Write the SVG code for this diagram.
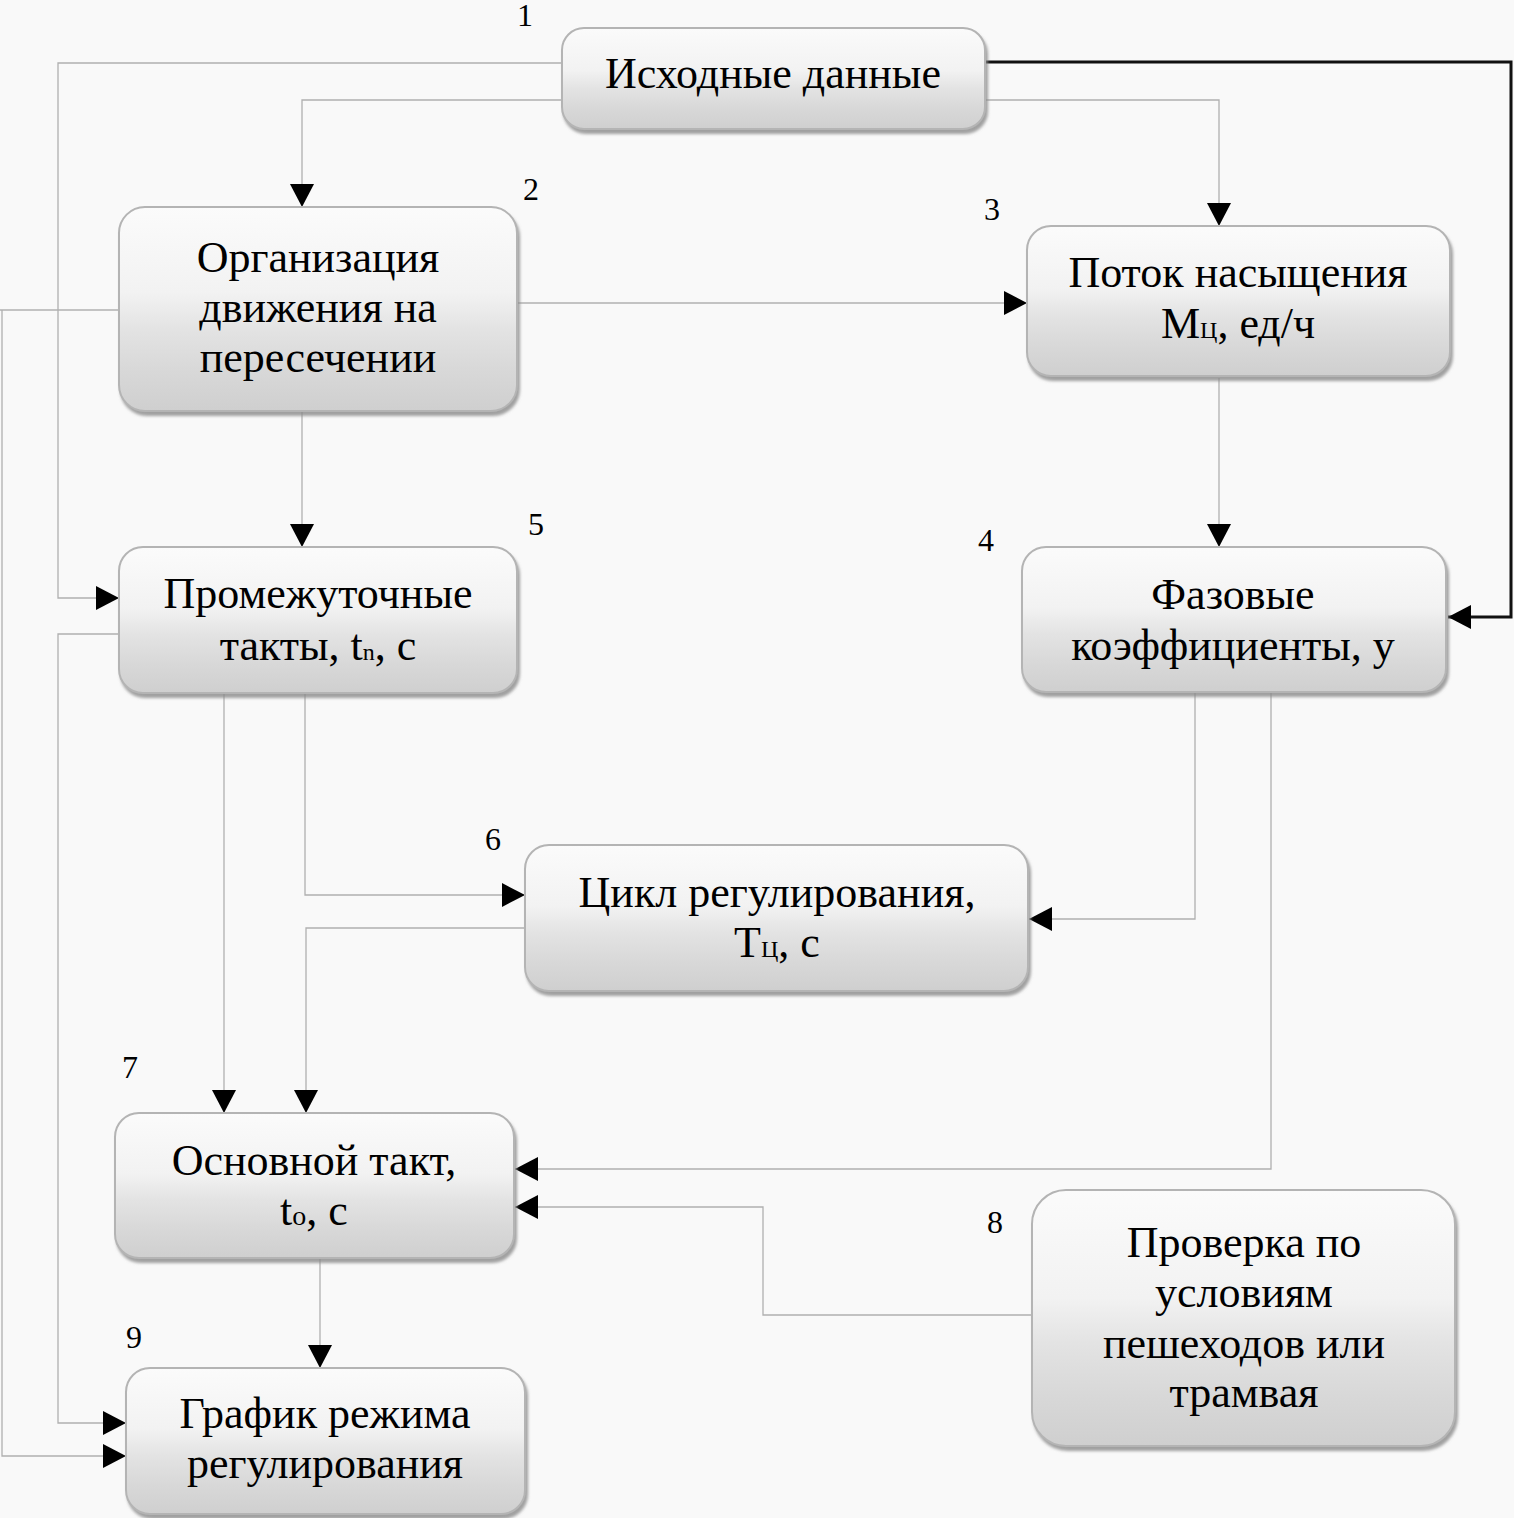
<svg xmlns="http://www.w3.org/2000/svg" width="1514" height="1518" viewBox="0 0 1514 1518">
<style>
.box{fill:url(#g);stroke:#b4b4b4;stroke-width:2;filter:url(#sh)}
.t{font-family:"Liberation Serif","Times New Roman",serif;font-size:44px;fill:#000;text-anchor:middle}
.n{font-family:"Liberation Serif","Times New Roman",serif;font-size:32px;fill:#000;text-anchor:middle}
.c{fill:none;stroke:#b0b0b0;stroke-width:1.3}
.k{fill:none;stroke:#111;stroke-width:3}
.s{font-size:24px}
</style>
<defs>
<linearGradient id="g" x1="0" y1="0" x2="0" y2="1">
<stop offset="0" stop-color="#fbfbfb"/>
<stop offset="0.42" stop-color="#f2f2f2"/>
<stop offset="0.6" stop-color="#e3e3e3"/>
<stop offset="0.8" stop-color="#d8d8d8"/>
<stop offset="1" stop-color="#cfcfcf"/>
</linearGradient>
<filter id="sh" x="-5%" y="-5%" width="115%" height="120%">
<feDropShadow dx="2" dy="4" stdDeviation="1.5" flood-color="#8a8a8a" flood-opacity="0.8"/>
</filter>
<marker id="a" markerUnits="userSpaceOnUse" markerWidth="24" markerHeight="24" viewBox="0 0 23 24" refX="23" refY="12" orient="auto">
<path d="M0,0 L23,12 L0,24 z" fill="#000"/>
</marker>
</defs>
<rect width="1514" height="1518" fill="#f9f9f9"/>
<g id="connectors">
<polyline class="c" points="562,63 58,63 58,598 119,598" marker-end="url(#a)"/>
<polyline class="c" points="562,100 302,100 302,207" marker-end="url(#a)"/>
<polyline class="c" points="985,100 1219,100 1219,226" marker-end="url(#a)"/>
<polyline class="k" points="985,62 1511,62 1511,617 1448,617" marker-end="url(#a)"/>
<polyline class="c" points="517,303 1027,303" marker-end="url(#a)"/>
<polyline class="c" points="302,412 302,547" marker-end="url(#a)"/>
<polyline class="c" points="1219,378 1219,547" marker-end="url(#a)"/>
<polyline class="c" points="119,310 0,310"/>
<polyline class="c" points="2,310 2,1456 126,1456" marker-end="url(#a)"/>
<polyline class="c" points="119,634 58,634 58,1423 126,1423" marker-end="url(#a)"/>
<polyline class="c" points="224,694 224,1113" marker-end="url(#a)"/>
<polyline class="c" points="305,694 305,895 525,895" marker-end="url(#a)"/>
<polyline class="c" points="525,928 306,928 306,1113" marker-end="url(#a)"/>
<polyline class="c" points="1195,693 1195,919 1029,919" marker-end="url(#a)"/>
<polyline class="c" points="1271,693 1271,1169 515,1169" marker-end="url(#a)"/>
<polyline class="c" points="1032,1315 763,1315 763,1207 515,1207" marker-end="url(#a)"/>
<polyline class="c" points="320,1258 320,1368" marker-end="url(#a)"/>
</g>
<g id="node1">
<rect class="box" x="562" y="28" width="423" height="101" rx="22"/>
<text class="t" x="773" y="88">Исходные данные</text>
<text class="n" x="525" y="26">1</text>
</g>
<g id="node2">
<rect class="box" x="119" y="207" width="398" height="204" rx="26"/>
<text class="t" x="318" y="272">Организация</text>
<text class="t" x="318" y="322">движения на</text>
<text class="t" x="318" y="372">пересечении</text>
<text class="n" x="531" y="200">2</text>
</g>
<g id="node3">
<rect class="box" x="1027" y="226" width="423" height="150" rx="24"/>
<text class="t" x="1238" y="287">Поток насыщения</text>
<text class="t" x="1238" y="338">M<tspan class="s">Ц</tspan>, ед/ч</text>
<text class="n" x="992" y="220">3</text>
</g>
<g id="node4">
<rect class="box" x="1022" y="547" width="424" height="145" rx="24"/>
<text class="t" x="1233" y="609">Фазовые</text>
<text class="t" x="1233" y="660">коэффициенты, y</text>
<text class="n" x="986" y="551">4</text>
</g>
<g id="node5">
<rect class="box" x="119" y="547" width="398" height="146" rx="24"/>
<text class="t" x="318" y="608">Промежуточные</text>
<text class="t" x="318" y="660">такты, t<tspan class="s" font-size="28">n</tspan>, с</text>
<text class="n" x="536" y="535">5</text>
</g>
<g id="node6">
<rect class="box" x="525" y="845" width="503" height="146" rx="24"/>
<text class="t" x="777" y="907">Цикл регулирования,</text>
<text class="t" x="777" y="957">T<tspan class="s">Ц</tspan>, с</text>
<text class="n" x="493" y="850">6</text>
</g>
<g id="node7">
<rect class="box" x="115" y="1113" width="399" height="145" rx="24"/>
<text class="t" x="314" y="1175">Основной такт,</text>
<text class="t" x="314" y="1225">t<tspan font-size="28">o</tspan>, с</text>
<text class="n" x="130" y="1078">7</text>
</g>
<g id="node8">
<rect class="box" x="1032" y="1190" width="423" height="256" rx="34"/>
<text class="t" x="1244" y="1257">Проверка по</text>
<text class="t" x="1244" y="1307">условиям</text>
<text class="t" x="1244" y="1358">пешеходов или</text>
<text class="t" x="1244" y="1407">трамвая</text>
<text class="n" x="995" y="1233">8</text>
</g>
<g id="node9">
<rect class="box" x="126" y="1368" width="399" height="146" rx="24"/>
<text class="t" x="325" y="1428">График режима</text>
<text class="t" x="325" y="1478">регулирования</text>
<text class="n" x="134" y="1348">9</text>
</g>
</svg>
